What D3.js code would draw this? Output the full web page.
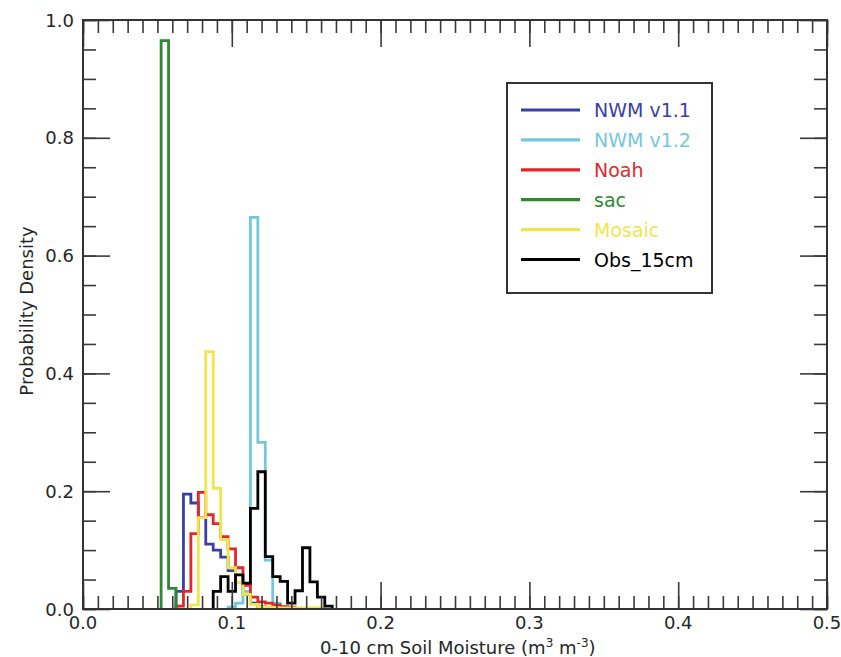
<!DOCTYPE html>
<html>
<head>
<meta charset="utf-8">
<script src="https://cdn.jsdelivr.net/npm/d3@7"></script>
<style>
	body { margin: 0; background: #fff; }
	svg { display: block; font-family: 'DejaVu Sans', Verdana, sans-serif; }
	.tickText { font-size: 18px; fill: #262626; }
	.axisTitle { font-size: 18px; fill: #262626; }
	.legendText { font-size: 19px; }
</style>
</head>
<body>
<svg id="chart" width="841" height="657"></svg>
<script>
// histogram bins (centres, m3 m-3)
var binCenters = [0.050, 0.055, 0.060, 0.065, 0.070, 0.075, 0.080, 0.085, 0.090, 0.095,
	0.100, 0.105, 0.110, 0.115, 0.120, 0.125, 0.130, 0.135, 0.140, 0.145,
	0.150, 0.155, 0.160, 0.165, 0.170];

// probability density per bin
var nwm11  = [0, 0, 0, 0.030, 0.195, 0.180, 0.155, 0.110, 0.100, 0.088, 0.065, 0.045, 0.025, 0.010, 0.004, 0.002, 0, 0, 0, 0, 0, 0, 0, 0, 0];
var nwm12  = [0, 0, 0, 0, 0, 0, 0, 0, 0, 0, 0.003, 0.010, 0.030, 0.665, 0.283, 0.083, 0.010, 0.003, 0, 0, 0, 0, 0, 0, 0];
var noah   = [0, 0, 0, 0.005, 0.030, 0.128, 0.198, 0.160, 0.145, 0.123, 0.102, 0.070, 0.040, 0.020, 0.012, 0.010, 0.007, 0.004, 0.003, 0, 0, 0, 0, 0, 0];
var sac    = [0, 0.965, 0.035, 0, 0, 0, 0, 0, 0, 0, 0, 0, 0, 0, 0, 0, 0, 0, 0, 0, 0, 0, 0, 0, 0];
var mosaic = [0, 0, 0, 0, 0, 0.007, 0.155, 0.437, 0.205, 0.118, 0.070, 0.045, 0.025, 0.008, 0.004, 0.003, 0.002, 0.002, 0.002, 0.002, 0.002, 0.002, 0.002, 0, 0];
var obs15  = [0, 0, 0, 0, 0, 0, 0, 0, 0.030, 0.055, 0.030, 0.058, 0.044, 0.171, 0.233, 0.089, 0.055, 0.047, 0.010, 0.031, 0.104, 0.046, 0.020, 0.005, 0];

var seriesNames  = ['NWM v1.1', 'NWM v1.2', 'Noah', 'sac', 'Mosaic', 'Obs_15cm'];
var seriesValues = [nwm11, nwm12, noah, sac, mosaic, obs15];
var seriesColors = ['#3b3fa4', '#72c9de', '#e3262a', '#2c8a32', '#efe64c', '#000000'];

var xTicks = [0.0, 0.1, 0.2, 0.3, 0.4, 0.5];
var yTicks = [0.0, 0.2, 0.4, 0.6, 0.8, 1.0];

var svg = d3.select('#chart');
var plotLeft = 83, plotRight = 827, plotTop = 20, plotBottom = 609;

var x = d3.scaleLinear().domain([0, 0.5]).range([plotLeft, plotRight]);
var y = d3.scaleLinear().domain([0, 1]).range([plotBottom, plotTop]);

var halfBin = (binCenters[1] - binCenters[0]) / 2;

// step outline for one histogram, dropping to zero at both ends
function stepPoints(values)
{
	var first = values.findIndex(function(v) { return v > 0; });
	var last = values.length - 1;
	while (last > 0 && !(values[last] > 0)) last--;
	var pts = [[binCenters[first] - halfBin, 0]];
	for (var i = first; i <= last; i++) {
		pts.push([binCenters[i] - halfBin, values[i]]);
		pts.push([binCenters[i] + halfBin, values[i]]);
	}
	pts.push([binCenters[last] + halfBin, 0]);
	return pts;
}

var line = d3.line()
	.x(function(d) { return x(d[0]); })
	.y(function(d) { return y(d[1]); });

var plot = svg.append('g');
plot.selectAll('path.hist').data(seriesValues).enter().append('path')
	.attr('class', 'hist')
	.attr('d', function(d) { return line(stepPoints(d)); })
	.attr('fill', 'none')
	.attr('stroke', function(d, i) { return seriesColors[i]; })
	.attr('stroke-width', 2.8)
	.attr('stroke-linejoin', 'miter');

// ticks, all pointing inwards
var xMinor = d3.range(0, 0.5001, 0.01);
var yMinor = d3.range(0, 1.0001, 0.05);

function tickAxis(axis, values, size, pos)
{
	var g = svg.append('g').attr('transform', pos)
		.call(axis.tickValues(values).tickSize(size).tickSizeOuter(0).tickFormat(''));
	g.select('.domain').remove();
	g.selectAll('.tick line').attr('stroke', '#3a3a3a').attr('stroke-width', 1.6);
	return g;
}

tickAxis(d3.axisBottom(x), xMinor, -13, 'translate(0,' + plotBottom + ')');
tickAxis(d3.axisBottom(x), xTicks, -27, 'translate(0,' + plotBottom + ')');
tickAxis(d3.axisTop(x), xMinor, -13, 'translate(0,' + plotTop + ')');
tickAxis(d3.axisTop(x), xTicks, -27, 'translate(0,' + plotTop + ')');
tickAxis(d3.axisLeft(y), yMinor, -13, 'translate(' + plotLeft + ',0)');
tickAxis(d3.axisLeft(y), yTicks, -27, 'translate(' + plotLeft + ',0)');
tickAxis(d3.axisRight(y), yMinor, -13, 'translate(' + plotRight + ',0)');
tickAxis(d3.axisRight(y), yTicks, -27, 'translate(' + plotRight + ',0)');

svg.append('rect')
	.attr('x', plotLeft).attr('y', plotTop)
	.attr('width', plotRight - plotLeft).attr('height', plotBottom - plotTop)
	.attr('fill', 'none').attr('stroke', '#333').attr('stroke-width', 2);

// tick labels
svg.append('g').selectAll('text').data(xTicks).enter().append('text')
	.attr('class', 'tickText')
	.attr('x', function(d) { return x(d); }).attr('y', 629)
	.attr('text-anchor', 'middle')
	.text(function(d) { return d3.format('.1f')(d); });

svg.append('g').selectAll('text').data(yTicks).enter().append('text')
	.attr('class', 'tickText')
	.attr('x', 74).attr('y', function(d) { return y(d) + 6.5; })
	.attr('text-anchor', 'end')
	.text(function(d) { return d3.format('.1f')(d); });

// axis titles
var xt = svg.append('text').attr('class', 'axisTitle')
	.attr('x', 320).attr('y', 654);
xt.append('tspan').text('0-10 cm Soil Moisture (m');
xt.append('tspan').attr('dy', -7).attr('font-size', 12).text('3');
xt.append('tspan').attr('dy', 7).text(' m');
xt.append('tspan').attr('dy', -7).attr('font-size', 12).text('-3');
xt.append('tspan').attr('dy', 7).text(')');

svg.append('text').attr('class', 'axisTitle')
	.attr('transform', 'translate(33,311) rotate(-90)')
	.attr('text-anchor', 'middle')
	.text('Probability Density');

// legend
var legend = svg.append('g');
legend.append('rect')
	.attr('x', 507).attr('y', 83).attr('width', 205).attr('height', 210)
	.attr('fill', '#fff').attr('stroke', '#333').attr('stroke-width', 2);

var rows = legend.selectAll('g.row').data(seriesNames).enter().append('g')
	.attr('class', 'row')
	.attr('transform', function(d, i) {
		return 'translate(' + 0 + ',' + (110 + i * 29.9) + ')';
	});

rows.append('line')
	.attr('x1', 521).attr('x2', 580).attr('y1', 0).attr('y2', 0)
	.attr('stroke', function(d, i) { return seriesColors[i]; })
	.attr('stroke-width', 3.2);

rows.append('text')
	.attr('class', 'legendText')
	.attr('x', 594).attr('y', 7)
	.attr('fill', function(d, i) { return seriesColors[i]; })
	.text(function(d) { return d; });
</script>
</body>
</html>
